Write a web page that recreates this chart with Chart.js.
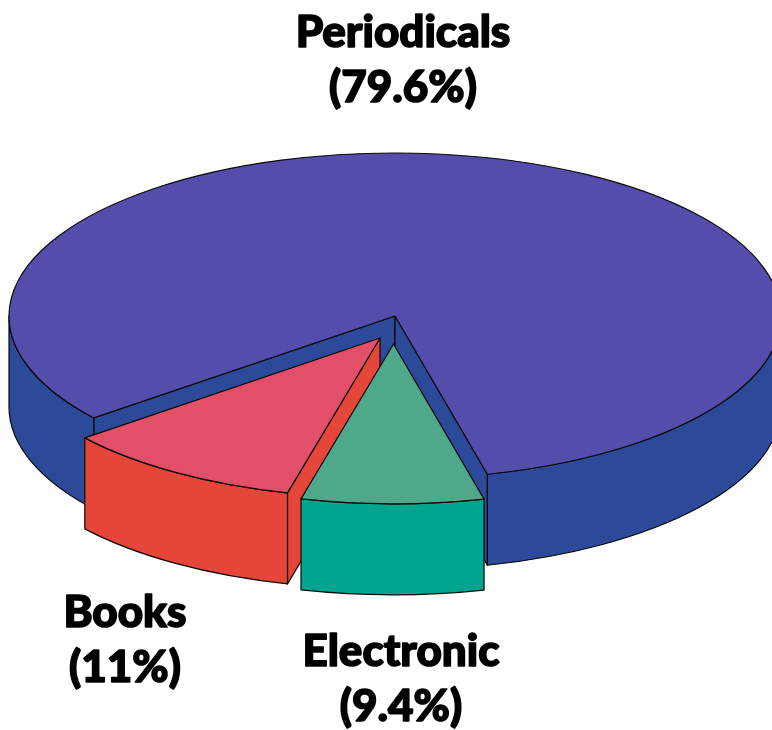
<!DOCTYPE html>
<html><head><meta charset="utf-8">
<style>html,body{margin:0;padding:0;background:#fff;overflow:hidden}canvas{display:block}</style>
<script src="https://cdn.jsdelivr.net/npm/chart.js@4"></script>
</head><body>
<canvas id="c" width="772" height="730" style="width:772px;height:730px"></canvas>
<script>
// Clockwise order, starting at the left edge of the large slice
const categories = ['Periodicals', 'Electronic', 'Books'];
const shares = [79.6, 9.4, 11];
const topColors = ['#544dab', '#4fa88a', '#e34f69'];
const wallColors = ['#2d4a9a', '#00a58f', '#e64539'];

const pieRotation = 236.7;          // degrees from 12 o'clock
const flatten = {x: 386 / 316, y: 163 / 316, depth: 91, warp: 1.22};
const sliceShift = [[0, 0], [-1.5, 28], [-15, 22]];
const sliceScale = [1, 0.98, 0.98];
const labelAnchor = [[403, 33], [401, 652], [125, 613]];
const labelFont = '900 44px Lato, "Open Sans", sans-serif';
const labelLeading = 55;

const TAU = Math.PI * 2;
const warpAngle = t => {
  const p = Math.atan2(flatten.warp * Math.sin(t), Math.cos(t));
  let out = p;
  while (out < t - Math.PI / 2) out += TAU;
  while (out > t + Math.PI / 2) out -= TAU;
  return out;
};

function wall(ctx, cx, cy, rx, ry, a, b, color) {
  if (b <= a) return;
  const d = flatten.depth;
  ctx.beginPath();
  ctx.ellipse(cx, cy, rx, ry, 0, a, b);
  ctx.ellipse(cx, cy + d, rx, ry, 0, b, a, true);
  ctx.closePath();
  ctx.fillStyle = color; ctx.fill(); ctx.stroke();
}
function cutFace(ctx, cx, cy, rx, ry, a, color) {
  const px = cx + rx * Math.cos(a), py = cy + ry * Math.sin(a), d = flatten.depth;
  ctx.beginPath();
  ctx.moveTo(cx, cy); ctx.lineTo(px, py); ctx.lineTo(px, py + d); ctx.lineTo(cx, cy + d);
  ctx.closePath();
  ctx.fillStyle = color; ctx.fill(); ctx.stroke();
}

const pie3d = {
  id: 'pie3d',
  beforeDatasetsDraw(chart) {
    const ctx = chart.ctx, arcs = chart.getDatasetMeta(0).data;
    ctx.save();
    ctx.lineWidth = 1.2; ctx.strokeStyle = '#0a0a0a'; ctx.lineJoin = 'round';
    // paint order: large slice, books, electronic (front-most)
    [0, 2, 1].forEach(i => {
      const arc = arcs[i];
      const cx = arc.x + sliceShift[i][0], cy = arc.y + sliceShift[i][1];
      const rx = arc.outerRadius * flatten.x * sliceScale[i], ry = arc.outerRadius * flatten.y * sliceScale[i];
      const a = warpAngle(arc.startAngle), b = warpAngle(arc.endAngle);
      const top = topColors[i], side = wallColors[i];
      if (i === 0) {
        cutFace(ctx, cx, cy, rx, ry, a, side);
        cutFace(ctx, cx, cy, rx, ry, b, side);
        wall(ctx, cx, cy, rx, ry, a, Math.PI, side);
        wall(ctx, cx, cy, rx, ry, TAU, b, side);
      } else {
        if (i === 2) cutFace(ctx, cx, cy, rx, ry, a, side);
        wall(ctx, cx, cy, rx, ry, a, b, side);
      }
      ctx.beginPath();
      ctx.moveTo(cx, cy);
      ctx.ellipse(cx, cy, rx, ry, 0, a, b);
      ctx.closePath();
      ctx.fillStyle = top; ctx.fill(); ctx.stroke();
    });
    ctx.restore();
    return false;
  },
  afterDraw(chart) {
    const ctx = chart.ctx;
    ctx.save();
    ctx.fillStyle = '#000'; ctx.strokeStyle = '#000'; ctx.lineWidth = 1.6; ctx.lineJoin = 'round';
    ctx.font = labelFont;
    ctx.textAlign = 'center'; ctx.textBaseline = 'middle';
    categories.forEach((name, i) => {
      const [x, y] = labelAnchor[i];
      [[name, y], ['(' + shares[i] + '%)', y + labelLeading]].forEach(([t, ty]) => {
        ctx.fillText(t, x, ty);
        ctx.strokeText(t, x, ty);
      });
    });
    ctx.restore();
  }
};

new Chart(document.getElementById('c'), {
  type: 'pie',
  data: {labels: categories, datasets: [{data: shares, backgroundColor: topColors, borderWidth: 0}]},
  options: {
    responsive: false, animation: false, rotation: pieRotation,
    layout: {padding: {left: 18, bottom: 98}},
    plugins: {legend: {display: false}, tooltip: {enabled: false}}
  },
  plugins: [pie3d]
});
</script>
</body></html>
